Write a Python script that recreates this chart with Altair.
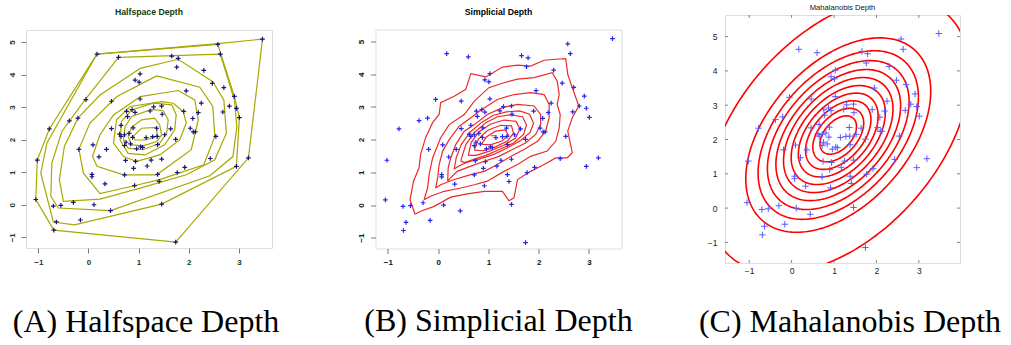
import altair as alt
import pandas as pd
import numpy as np

# ---------------- data points ----------------
px = [3.47, 2.58, 2.63, 0.17, 0.60, 1.66, 1.79, 1.76, 2.30, 1.03, 0.93, 1.01, 2.47, 2.70, 1.95,
      2.91, -0.05, 1.03, 0.46, 2.25, 2.81, 2.95, 1.30, 1.46, 0.87, 0.76, 1.23, 0.93, 1.47, 1.90,
      2.19, 2.68, 0.78, -0.21, 2.08, 3.01, -0.38, 0.65, -0.78, 0.46, 0.89, 1.36, 1.64, 2.03, 2.13,
      2.09, 0.62, 0.72, 0.81, 1.52, 1.37, 1.28, 0.65, 0.88, 1.15, 1.74, 2.54, 0.75, 0.72, 0.84,
      0.09, 1.38, 1.04, 1.08, 0.96, -0.19, 0.36, 0.21, 3.19, 2.43, 0.74, 0.94, 1.25, 1.46, -1.02,
      1.17, 1.92, 2.95, 0.90, 1.77, 0.07, 0.07, 0.72, 1.38, 1.41, 0.33, 0.92, -1.05, -0.30, 0.11,
      -0.70, -0.55, 1.46, 0.44, -0.16, -0.64, -0.69, 1.74]
py = [5.09, 4.93, 4.63, 4.63, 4.53, 4.57, 4.50, 4.23, 4.13, 4.02, 3.83, 3.77, 3.73, 3.60, 3.50,
      3.33, 3.23, 3.25, 3.18, 3.12, 3.03, 2.96, 3.01, 3.03, 2.92, 2.87, 2.88, 2.84, 2.78, 2.87,
      2.83, 2.85, 2.71, 2.66, 2.65, 2.68, 2.58, 2.44, 2.33, 2.34, 2.36, 2.35, 2.33, 2.35, 2.24,
      2.24, 2.17, 2.15, 2.19, 2.15, 2.10, 2.09, 2.10, 2.07, 2.06, 2.01, 2.10, 1.92, 1.82, 1.87,
      1.84, 1.85, 1.78, 1.76, 1.72, 1.70, 1.70, 1.47, 1.44, 1.42, 1.36, 1.33, 1.37, 1.40, 1.37,
      1.19, 1.15, 1.18, 1.12, 0.99, 0.93, 0.86, 0.92, 0.93, 0.72, 0.64, 0.59, 0.16, 0.07, 0.00,
      -0.04, -0.02, 0.02, -0.18, -0.47, -0.53, -0.78, -1.15]

# ---------------- halfspace depth contours (vertices read) ----------------
hs1 = [(0.17, 4.63), (2.58, 4.95), (3.47, 5.09), (3.19, 1.44), (1.74, -1.15), (-0.69, -0.78),
       (-1.05, 0.16), (-1.02, 1.37), (-0.78, 2.33)]
hs2 = [(0.17, 4.63), (2.58, 4.93), (2.91, 3.32), (3.01, 2.68), (2.95, 1.18), (1.46, 0.02),
       (-0.28, -0.62), (-0.70, -0.53), (-0.95, 0.97), (-0.83, 1.89)]
hs3 = [(0.60, 4.53), (2.63, 4.63), (2.91, 3.22), (2.96, 2.40), (2.88, 1.48), (2.42, 0.89),
       (0.44, -0.18), (-0.60, -0.10), (-0.75, 0.26), (-0.73, 1.28), (-0.53, 2.25), (-0.07, 3.22)]
hs4 = [(1.03, 4.19), (1.79, 4.47), (2.48, 3.78), (2.70, 3.22), (2.75, 2.20), (2.52, 1.38),
       (1.95, 0.92), (1.03, 0.51), (0.23, 0.17), (-0.50, 0.10), (-0.58, 0.77), (-0.48, 1.79),
       (-0.21, 2.66), (0.23, 3.37)]
hs5 = [(1.36, 3.96), (2.22, 3.61), (2.48, 3.02), (2.52, 2.10), (2.30, 1.23), (1.42, 0.77),
       (0.93, 0.59), (0.23, 0.34), (-0.10, 0.97), (-0.19, 1.71), (0.03, 2.51), (0.56, 3.32)]
hs6 = [(1.03, 3.32), (1.79, 3.51), (2.12, 3.22), (2.19, 2.61), (2.05, 1.69), (1.36, 0.92),
       (0.70, 0.92), (0.17, 1.18), (0.08, 1.48), (0.23, 2.15), (0.50, 2.76)]
hs7 = [(0.50, 1.89), (0.56, 2.61), (0.83, 3.02), (1.46, 3.17), (1.69, 3.12), (1.89, 2.86),
       (1.95, 2.51), (1.82, 1.99), (1.42, 1.53), (0.96, 1.33), (0.70, 1.48)]
hs8 = [(0.63, 1.99), (0.66, 2.56), (0.86, 2.91), (1.29, 3.12), (1.66, 3.07), (1.75, 2.76),
       (1.72, 2.30), (1.52, 1.84), (1.13, 1.53), (0.79, 1.58)]
hs9 = [(0.70, 1.99), (0.73, 2.40), (0.86, 2.71), (1.26, 2.93), (1.49, 2.89), (1.59, 2.61),
       (1.56, 2.20), (1.42, 1.89), (1.09, 1.69), (0.79, 1.74)]
hs10 = [(0.79, 2.10), (0.86, 2.38), (1.06, 2.61), (1.32, 2.66), (1.42, 2.45), (1.46, 2.15),
        (1.36, 1.94), (1.09, 1.81), (0.86, 1.84)]
hs11 = [(0.89, 2.10), (1.06, 2.35), (1.36, 2.38), (1.37, 2.10), (1.13, 1.99), (0.93, 1.99)]

# ---------------- simplicial depth contours (points read) ----------------
sd1 = [(-0.46, -0.28), (-0.56, 0.16), (-0.49, 0.73), (-0.38, 1.14), (-0.35, 1.54), (-0.25, 2.06),
       (-0.11, 2.52), (0.02, 2.77), (0.05, 3.13), (0.32, 3.33), (0.55, 3.54), (0.65, 4.02),
       (0.95, 3.92), (1.28, 4.22), (1.58, 4.28), (1.84, 4.25), (2.11, 4.43), (2.34, 4.46),
       (2.54, 4.48), (2.58, 4.00), (2.67, 3.59), (2.80, 3.03), (2.67, 2.67), (2.58, 2.26),
       (2.67, 1.60), (2.57, 1.44), (2.34, 1.44), (2.11, 1.24), (1.84, 1.03), (1.58, 0.78),
       (1.51, 0.22), (1.41, 0.13), (1.28, 0.42), (0.92, 0.42), (0.58, 0.34), (0.25, 0.24),
       (-0.08, -0.04), (-0.35, -0.19)]
sd2 = [(-0.28, 0.16), (-0.21, 0.52), (-0.18, 0.93), (-0.11, 1.44), (0.05, 2.06), (0.22, 2.46),
       (0.52, 2.77), (0.72, 3.18), (1.01, 3.59), (1.31, 3.74), (1.58, 3.85), (1.91, 3.90),
       (2.27, 4.05), (2.37, 3.79), (2.41, 3.38), (2.37, 3.08), (2.43, 2.77), (2.41, 2.36),
       (2.34, 1.95), (2.17, 1.65), (1.84, 1.49), (1.58, 1.24), (1.31, 1.03), (0.98, 0.73),
       (0.72, 0.62), (0.45, 0.52), (0.12, 0.42), (-0.15, 0.27)]
sd3 = [(-0.05, 0.52), (-0.01, 0.83), (0.02, 1.24), (0.09, 1.65), (0.22, 2.00), (0.42, 2.41),
       (0.65, 2.67), (0.92, 2.98), (1.18, 3.23), (1.51, 3.38), (1.84, 3.44), (2.11, 3.38),
       (2.21, 3.08), (2.21, 2.67), (2.14, 2.26), (1.98, 1.95), (1.71, 1.70), (1.45, 1.49),
       (1.18, 1.24), (0.92, 1.03), (0.65, 0.93), (0.32, 0.78), (0.05, 0.62)]
sd4 = [(0.19, 0.73), (0.20, 1.14), (0.25, 1.44), (0.35, 1.85), (0.52, 2.26), (0.72, 2.46),
       (0.98, 2.77), (1.28, 2.98), (1.58, 3.08), (1.91, 3.03), (2.04, 2.77), (2.04, 2.46),
       (1.94, 2.16), (1.74, 1.90), (1.48, 1.70), (1.21, 1.49), (0.92, 1.34), (0.65, 1.19),
       (0.38, 1.03), (0.25, 0.83)]
sd5 = [(0.32, 1.10), (0.36, 1.45), (0.46, 1.85), (0.63, 2.22), (0.86, 2.52), (1.09, 2.74),
       (1.36, 2.85), (1.62, 2.88), (1.82, 2.78), (1.90, 2.50), (1.83, 2.22), (1.65, 1.98),
       (1.39, 1.76), (1.11, 1.55), (0.85, 1.42), (0.58, 1.31), (0.42, 1.20)]
sd6 = [(0.45, 1.35), (0.55, 1.85), (0.72, 2.22), (0.95, 2.52), (1.18, 2.70), (1.45, 2.76),
       (1.68, 2.70), (1.76, 2.45), (1.70, 2.16), (1.50, 1.90), (1.22, 1.70), (0.95, 1.52),
       (0.68, 1.38), (0.52, 1.30)]
sd7 = [(0.60, 1.52), (0.66, 1.92), (0.82, 2.25), (1.05, 2.48), (1.31, 2.60), (1.55, 2.56),
       (1.63, 2.33), (1.54, 2.05), (1.30, 1.82), (1.02, 1.65), (0.76, 1.52)]
sd8 = [(0.72, 1.68), (0.80, 2.02), (0.98, 2.28), (1.24, 2.44), (1.46, 2.42), (1.50, 2.20),
       (1.38, 1.96), (1.14, 1.78), (0.90, 1.66)]
sd9 = [(0.86, 1.86), (0.96, 2.08), (1.14, 2.26), (1.34, 2.30), (1.40, 2.14), (1.27, 1.96),
       (1.04, 1.84)]
sd_dash = [(1.05, 2.12), (1.16, 2.12)]

# ---------------- Mahalanobis depth ellipses ----------------
mahal_center = [1.10, 2.13]
mahal_sd = [1.0, 1.30]
mahal_rho = 0.45
mahal_levels = [0.43, 0.60, 0.77, 0.94, 1.11, 1.29, 1.47, 1.67, 1.89, 2.18, 3.10]

# tick values
ticks_x = [-1, 0, 1, 2, 3]
ticks_y = [-1, 0, 1, 2, 3, 4, 5]

captions = ["(A) Halfspace Depth", "(B) Simplicial Depth", "(C) Mahalanobis Depth"]
titles = ["Halfspace Depth", "Simplicial Depth", "Mahalanobis Depth"]

# ---------------- build tables ----------------
pts = pd.DataFrame({"x": px, "y": py})


def loops(contours, closed=True):
    rows = []
    for k, c in enumerate(contours):
        seq = list(c) + ([c[0]] if closed else [])
        for i, (x, y) in enumerate(seq):
            rows.append({"c": k, "i": i, "x": x, "y": y})
    return pd.DataFrame(rows)


hs_df = loops([hs1, hs2, hs3, hs4, hs5, hs6, hs7, hs8, hs9, hs10, hs11])
sd_df = pd.concat([loops([sd1, sd2, sd3, sd4, sd5, sd6, sd7, sd8, sd9]),
                   loops([sd_dash], closed=False).assign(c=99)])

mu = np.array(mahal_center)
sx, sy = mahal_sd
cov = np.array([[sx * sx, mahal_rho * sx * sy], [mahal_rho * sx * sy, sy * sy]])
L = np.linalg.cholesky(cov)
t = np.linspace(0, 2 * np.pi, 241)
circ = np.vstack([np.cos(t), np.sin(t)])
erows = []
for k, d in enumerate(mahal_levels):
    e = mu[:, None] + d * (L @ circ)
    for i in range(e.shape[1]):
        erows.append({"c": k, "i": i, "x": e[0, i], "y": e[1, i]})
el_df = pd.DataFrame(erows)

PLUS = "M-1,0L1,0M0,-1L0,1"
CAP_SIZE = 32


def r_panel(W, H, xdom, ydom, line_df, line_color, pt_color, title, title_color, caption,
            cap_x, cap_y, label_color):
    xs = alt.Scale(domain=xdom, nice=False, zero=False)
    ys = alt.Scale(domain=ydom, nice=False, zero=False)
    X = alt.X("x:Q", scale=xs, axis=alt.Axis(
        values=ticks_x, grid=False, domain=False, tickSize=5, tickColor="#7a7a7a",
        labelFont="Liberation Sans", labelFontSize=8, labelFontWeight="bold",
        labelColor=label_color, labelPadding=5,
        title=caption, titleFont="Liberation Serif", titleFontSize=CAP_SIZE,
        titleFontWeight="normal", titleColor="#000000", titleX=cap_x, titleY=cap_y,
        titleAlign="center", titleBaseline="alphabetic", titleAngle=0))
    Y = alt.Y("y:Q", scale=ys, axis=alt.Axis(
        values=ticks_y, grid=False, domain=False, tickSize=5, tickColor="#7a7a7a",
        labelFont="Liberation Sans", labelFontSize=8, labelFontWeight="bold",
        labelColor=label_color, labelAngle=270, labelAlign="center",
        labelBaseline="bottom", labelPadding=5, title=None))
    lines = alt.Chart(line_df).mark_line(color=line_color, strokeWidth=1.2, clip=True).encode(
        x=X, y=Y, detail="c:N", order="i:Q")
    dots = alt.Chart(pts).mark_point(shape=PLUS, filled=False, size=22, strokeWidth=1.2,
                                     color=pt_color, opacity=1).encode(x=X, y=Y)
    return alt.layer(lines, dots).properties(
        width=W, height=H,
        title=alt.TitleParams(title, font="Liberation Sans", fontSize=8.7, fontWeight="bold",
                              color=title_color, anchor="middle", offset=13, frame="group"))


panelA = r_panel(246, 218, [-1.245, 3.66], [-1.33, 5.37], hs_df, "#a8a800", "#15157a",
                 titles[0], "#103c10", captions[0], 119.5, 83, "#1d3a1d")
panelB = r_panel(246, 219, [-1.247, 3.65], [-1.33, 5.37], sd_df, "#ec2a2a", "#2626f2",
                 titles[1], "#000000", captions[1], 122.5, 82, "#111111")

# ---------------- panel C (Matlab style) ----------------
WC, HC = 235, 248
xsC = alt.Scale(domain=[-1.57, 3.97], nice=False, zero=False)
ysC = alt.Scale(domain=[-1.60, 5.63], nice=False, zero=False)
XC = alt.X("x:Q", scale=xsC, axis=alt.Axis(
    values=ticks_x, grid=False, domain=False, ticks=False, labelFont="Liberation Sans",
    labelFontSize=8.5, labelColor="#222222", labelPadding=3,
    title=captions[2], titleFont="Liberation Serif", titleFontSize=CAP_SIZE,
    titleFontWeight="normal", titleColor="#000000", titleX=124.5, titleY=68,
    titleAlign="center", titleBaseline="alphabetic", titleAngle=0))
YC = alt.Y("y:Q", scale=ysC, axis=alt.Axis(
    values=ticks_y, grid=False, domain=False, ticks=False, labelFont="Liberation Sans",
    labelFontSize=8.5, labelColor="#222222", labelPadding=8, title=None))

tx = pd.DataFrame({"x": ticks_x})
ty = pd.DataFrame({"y": ticks_y})
tick_col = "#666666"
t_bottom = alt.Chart(tx).mark_rule(color=tick_col, strokeWidth=0.8).encode(
    x=XC, y=alt.value(HC), y2=alt.value(HC - 3))
t_top = alt.Chart(tx).mark_rule(color=tick_col, strokeWidth=0.8).encode(
    x=XC, y=alt.value(0), y2=alt.value(3))
t_left = alt.Chart(ty).mark_rule(color=tick_col, strokeWidth=0.8).encode(
    y=YC, x=alt.value(0), x2=alt.value(3))
t_right = alt.Chart(ty).mark_rule(color=tick_col, strokeWidth=0.8).encode(
    y=YC, x=alt.value(WC), x2=alt.value(WC - 3))
ell = alt.Chart(el_df).mark_line(color="#ff0000", strokeWidth=1.6, clip=True).encode(
    x=XC, y=YC, detail="c:N", order="i:Q")
dotsC = alt.Chart(pts).mark_point(shape=PLUS, filled=False, size=42, strokeWidth=1,
                                  color="#5a5aff", opacity=1).encode(x=XC, y=YC)
panelC = alt.layer(ell, dotsC, t_bottom, t_top, t_left, t_right).properties(
    width=WC, height=HC,
    title=alt.TitleParams(titles[2], font="Liberation Sans", fontSize=7.6, fontWeight="normal",
                          color="#111111", anchor="middle", offset=3.5, frame="group"))

chart = alt.hconcat(panelA, panelB, panelC, spacing=103.5, bounds="flush", center=True).properties(
    padding={"left": 7, "top": 3, "right": 0, "bottom": 0}
).configure_view(stroke="#8c8c8c", strokeWidth=1).configure(background="white")

chart.save("out.html", embed_options={"renderer": "svg", "actions": False})
